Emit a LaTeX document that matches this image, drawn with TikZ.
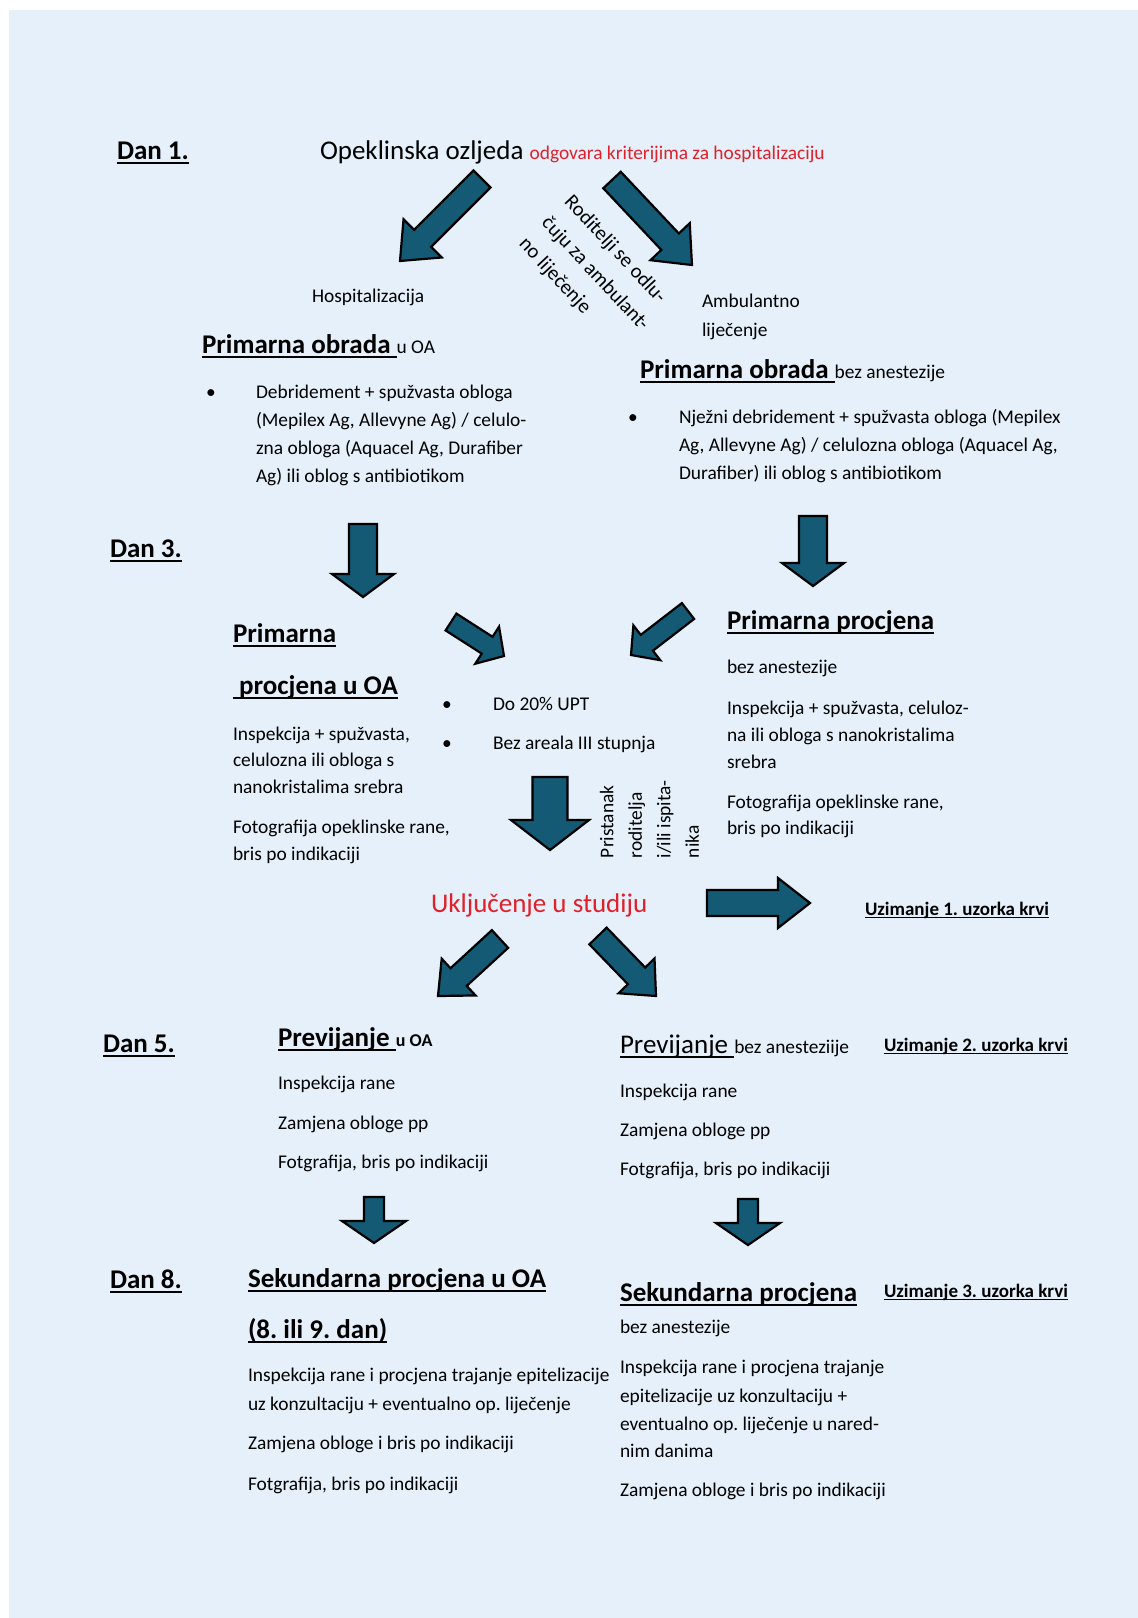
\documentclass[tikz,border=0pt]{standalone}
\usepackage{fontspec}
\setmainfont{Carlito}
\usetikzlibrary{calc}
\definecolor{bgblue}{HTML}{E5F0FA}
\definecolor{arrowteal}{HTML}{145A75}
\definecolor{redtxt}{HTML}{E0202A}
\frenchspacing
\newcommand\myul[1]{\setbox0\hbox{#1}\rlap{\vrule width\wd0 height -0.1em depth 0.18em}\box0}
\newcommand\tsz{\fontsize{19.4}{27}\selectfont}
\newcommand\hsz{\fontsize{27}{32}\selectfont}
% #1 tail, #2 tip, #3 shaft half width, #4 head half width, #5 head length
\newcommand\blockarrow[5]{%
  \path ($(#2)!#5pt!(#1)$) coordinate (nk);
  \filldraw[blockarr] ($(#1)!#3pt!90:(#2)$) -- ($(nk)!#3pt!-90:(#1)$) -- ($(nk)!#4pt!-90:(#1)$) -- (#2)
    -- ($(nk)!#4pt!90:(#1)$) -- ($(nk)!#3pt!90:(#1)$) -- ($(#1)!#3pt!-90:(#2)$) -- cycle;}
\begin{document}
\begin{tikzpicture}[x=1pt,y=-1pt,
  every node/.style={inner sep=0pt, outer sep=0pt},
  tx/.style={anchor=base west, font=\tsz},
  hd/.style={anchor=base west, font=\hsz\bfseries},
  big/.style={anchor=base west, font=\hsz},
  blood/.style={anchor=base west, font=\fontsize{19}{27}\selectfont\bfseries},
  blockarr/.style={fill=arrowteal, draw=black, line width=2.2pt, line join=miter}]
\useasboundingbox (0,0) rectangle (1138,1618);
\fill[bgblue] (9,10) rectangle (1138,1618);

% ---------- Dan 1 ----------
\node[hd] (dan1) at (117,159) {\myul{Dan 1.}};
\node[big] (opek) at (320,159) {Opeklinska ozljeda {\tsz\color{redtxt}odgovara kriterijima za hospitalizaciju}};
\node[tx] (hosp) at (312,302) {Hospitalizacija};
\node[tx] (amb1) at (702,307) {Ambulantno};
\node[tx] (amb2) at (702,336) {liječenje};
\node[anchor=north west, rotate=-47, align=left, font=\fontsize{20.5}{31}\selectfont] (rod) at (574,193)
  {Roditelji se odlu-\\čuju za ambulant-\\no liječenje};

\coordinate (a1t) at (482,179); \coordinate (a1h) at (400,261);
\coordinate (a2t) at (612,180); \coordinate (a2h) at (692,265);
\blockarrow{a1t}{a1h}{12}{27}{32}
\blockarrow{a2t}{a2h}{12}{27}{32}

% left primary treatment
\node[hd] (po1) at (202,353) {\myul{Primarna obrada\ }{\tsz\mdseries u OA}};
\node[tx] (po1b) at (206,398) {•};
\node[tx] (po1l1) at (256,398) {Debridement + spužvasta obloga};
\node[tx] (po1l2) at (256,426) {(Mepilex Ag, Allevyne Ag) / celulo-};
\node[tx] (po1l3) at (256,454) {zna obloga (Aquacel Ag, Durafiber};
\node[tx] (po1l4) at (256,482) {Ag) ili oblog s antibiotikom};

% right primary treatment
\node[hd] (po2) at (640,378) {\myul{Primarna obrada\ }{\tsz\mdseries bez anestezije}};
\node[tx] (po2b) at (628,423) {•};
\node[tx] (po2l1) at (679,423) {Nježni debridement + spužvasta obloga (Mepilex};
\node[tx] (po2l2) at (679,451) {Ag, Allevyne Ag) / celulozna obloga (Aquacel Ag,};
\node[tx] (po2l3) at (679,479) {Durafiber) ili oblog s antibiotikom};

% ---------- Dan 3 ----------
\node[hd] (dan3) at (110,557) {\myul{Dan 3.}};
\coordinate (a3t) at (363,524); \coordinate (a3h) at (363,597);
\coordinate (a4t) at (813,516); \coordinate (a4h) at (813,586);
\blockarrow{a3t}{a3h}{14}{31}{23}
\blockarrow{a4t}{a4h}{14}{31}{23}

\node[hd] (pp1a) at (233,642) {\myul{Primarna}};
\node[hd] (pp1b) at (233,694) {\myul{\ procjena u OA}};
\node[tx] (pp1l1) at (233,740) {Inspekcija + spužvasta,};
\node[tx] (pp1l2) at (233,766) {celulozna ili obloga s};
\node[tx] (pp1l3) at (233,793) {nanokristalima srebra};
\node[tx] (pp1l4) at (233,833) {Fotografija opeklinske rane,};
\node[tx] (pp1l5) at (233,860) {bris po indikaciji};

\coordinate (a5t) at (451,622); \coordinate (a5h) at (504,656);
\coordinate (a6t) at (688,611); \coordinate (a6h) at (631,655);
\blockarrow{a5t}{a5h}{10}{22}{20}
\blockarrow{a6t}{a6h}{10}{22}{20}

\node[tx] (cb1) at (442,710) {•};
\node[tx] (ct1) at (493,710) {Do 20\% UPT};
\node[tx] (cb2) at (442,749) {•};
\node[tx] (ct2) at (493,749) {Bez areala III stupnja};

\node[hd] (pp2) at (727,629) {\myul{Primarna procjena}};
\node[tx] (pp2l1) at (727,673) {bez anestezije};
\node[tx] (pp2l2) at (727,714) {Inspekcija + spužvasta, celuloz-};
\node[tx] (pp2l3) at (727,741) {na ili obloga s nanokristalima};
\node[tx] (pp2l4) at (727,768) {srebra};
\node[tx] (pp2l5) at (727,808) {Fotografija opeklinske rane,};
\node[tx] (pp2l6) at (727,834) {bris po indikaciji};

\coordinate (a7t) at (550,777); \coordinate (a7h) at (550,850);
\blockarrow{a7t}{a7h}{17.5}{39}{30}
\node[anchor=north west, rotate=90, align=left, font=\fontsize{19.4}{28.5}\selectfont] (prist) at (600,858)
  {Pristanak\\roditelja\\i/ili ispita-\\nika};

% ---------- inclusion ----------
\node[big, text=redtxt] (uklj) at (431,912) {Uključenje u studiju};
\coordinate (a8t) at (707,903); \coordinate (a8h) at (810,903);
\blockarrow{a8t}{a8h}{13}{25}{32}
\node[blood] (uz1) at (865,915) {\myul{Uzimanje 1. uzorka krvi}};

\coordinate (a9t) at (500,939); \coordinate (a9h) at (438,996);
\coordinate (a10t) at (598,936); \coordinate (a10h) at (656,996);
\blockarrow{a9t}{a9h}{12}{25}{28}
\blockarrow{a10t}{a10h}{12}{25}{28}

% ---------- Dan 5 ----------
\node[hd] (dan5) at (103,1052) {\myul{Dan 5.}};
\node[hd] (pv1) at (278,1046) {\myul{Previjanje\ }{\fontsize{18}{27}\selectfont u OA}};
\node[tx] (pv1l1) at (278,1089) {Inspekcija rane};
\node[tx] (pv1l2) at (278,1129) {Zamjena obloge pp};
\node[tx] (pv1l3) at (278,1168) {Fotgrafija, bris po indikaciji};

\node[big] (pv2) at (620,1053) {\myul{Previjanje\ }{\tsz bez anesteziije}};
\node[blood] (uz2) at (884,1051) {\myul{Uzimanje 2. uzorka krvi}};
\node[tx] (pv2l1) at (620,1097) {Inspekcija rane};
\node[tx] (pv2l2) at (620,1136) {Zamjena obloge pp};
\node[tx] (pv2l3) at (620,1175) {Fotgrafija, bris po indikaciji};

\coordinate (a11t) at (374,1197); \coordinate (a11h) at (374,1243);
\coordinate (a12t) at (748,1199); \coordinate (a12h) at (748,1245);
\blockarrow{a11t}{a11h}{10}{32}{22}
\blockarrow{a12t}{a12h}{10}{32}{22}

% ---------- Dan 8 ----------
\node[hd] (dan8) at (110,1288) {\myul{Dan 8.}};
\node[hd] (sp1a) at (248,1287) {\myul{Sekundarna procjena u OA}};
\node[hd] (sp1b) at (248,1338) {\myul{(8. ili 9. dan)}};
\node[tx] (sp1l1) at (248,1381) {Inspekcija rane i procjena trajanje epitelizacije};
\node[tx] (sp1l2) at (248,1410) {uz konzultaciju + eventualno op. liječenje};
\node[tx] (sp1l3) at (248,1449) {Zamjena obloge i bris po indikaciji};
\node[tx] (sp1l4) at (248,1490) {Fotgrafija, bris po indikaciji};

\node[hd] (sp2) at (620,1301) {\myul{Sekundarna procjena}};
\node[blood] (uz3) at (884,1297) {\myul{Uzimanje 3. uzorka krvi}};
\node[tx] (sp2l1) at (620,1333) {bez anestezije};
\node[tx] (sp2l2) at (620,1373) {Inspekcija rane i procjena trajanje};
\node[tx] (sp2l3) at (620,1402) {epitelizacije uz konzultaciju +};
\node[tx] (sp2l4) at (620,1430) {eventualno op. liječenje u nared-};
\node[tx] (sp2l5) at (620,1457) {nim danima};
\node[tx] (sp2l6) at (620,1496) {Zamjena obloge i bris po indikaciji};
\end{tikzpicture}
\end{document}
